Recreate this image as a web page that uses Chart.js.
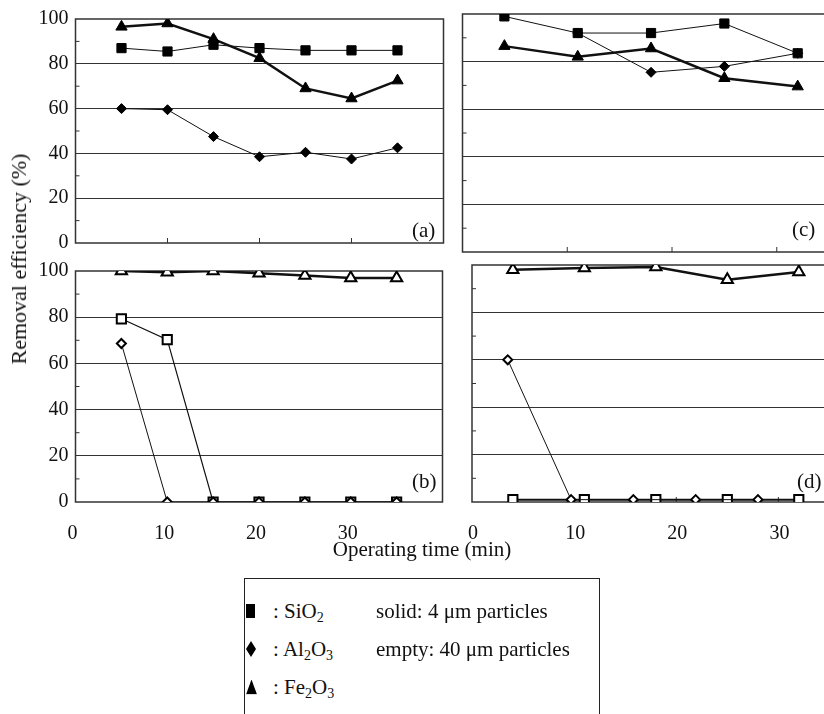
<!DOCTYPE html>
<html lang="en">
<head>
<meta charset="UTF-8" />
<title>Removal efficiency vs operating time</title>
<script src="https://cdn.jsdelivr.net/npm/chart.js@4.4.1/dist/chart.umd.min.js"></script>
<style>
*{box-sizing:border-box}
html,body{margin:0;padding:0;background:#fff}
body{font-family:"Liberation Serif","Times New Roman",serif;color:#111;overflow:hidden}
.fig{position:relative;width:824px;height:714px;overflow:hidden}
.fig canvas{position:absolute}
#cA{left:0;top:0}
#cB{left:0;top:252px}
#cC{left:455px;top:0}
#cD{left:455px;top:252px}
.ytitle{position:absolute;left:19px;top:259px;transform:translate(-50%,-50%) rotate(-90deg);font-size:22px;white-space:nowrap}
.xtitle{position:absolute;left:422px;top:549px;transform:translate(-50%,-50%);font-size:21px;white-space:nowrap}
.tag{position:absolute;font-size:21px;line-height:1;transform:translateY(-50%)}
.legend{position:absolute;left:244px;top:578px;width:356px;height:160px;border:1.5px solid #222}
.legend .row{position:absolute;left:0;font-size:21px;line-height:1;transform:translateY(-50%);white-space:nowrap}
.legend .mk{position:absolute;left:1px;top:50%;transform:translateY(-50%);background:#000}
.legend .txt{position:absolute;left:28px;top:0;transform:translateY(-50%)}
.legend .note{position:absolute;left:131px;top:0;transform:translateY(-50%)}
.sq{width:9px;height:14px}
.di{width:10px;height:16px;clip-path:polygon(50% 0,100% 50%,50% 100%,0 50%)}
.tr{width:11px;height:15px;clip-path:polygon(50% 0,100% 100%,0 100%)}
sub{font-size:14px;vertical-align:-4px;line-height:0}
</style>
</head>
<body>
<div class="fig">
  <canvas id="cA" width="451" height="262"></canvas>
  <canvas id="cB" width="451" height="300"></canvas>
  <canvas id="cC" width="434" height="262"></canvas>
  <canvas id="cD" width="434" height="300"></canvas>

  <div class="ytitle">Removal efficiency (%)</div>
  <div class="xtitle">Operating time (min)</div>

  <div class="tag" style="left:412px;top:230px">(a)</div>
  <div class="tag" style="left:412px;top:481px">(b)</div>
  <div class="tag" style="left:792px;top:229px">(c)</div>
  <div class="tag" style="left:797px;top:481px">(d)</div>

  <div class="legend">
    <div class="row" style="top:32px"><span class="mk sq"></span><span class="txt">: SiO<sub>2</sub></span><span class="note">solid: 4 μm particles</span></div>
    <div class="row" style="top:70px"><span class="mk di"></span><span class="txt">: Al<sub>2</sub>O<sub>3</sub></span><span class="note">empty: 40 μm particles</span></div>
    <div class="row" style="top:108px"><span class="mk tr"></span><span class="txt">: Fe<sub>2</sub>O<sub>3</sub></span></div>
  </div>
</div>

<script>
/* ── data ──────────────────────────────────────────────────────── */
// (a) 4 µm particles, left series
const xA       = [5, 10, 15, 20, 25, 30, 35];
const aSiO2    = [87, 85.5, 88.5, 87, 86, 86, 86];
const aAl2O3   = [60, 59.5, 47.5, 38.5, 40.5, 37.5, 42.5];
const aFe2O3   = [96.5, 98, 91, 82.5, 69, 64.5, 72.5];

// (b) 40 µm particles, left series
const xB       = [5, 10, 15, 20, 25, 30, 35];
const bSiO2    = [79.3, 70.3, 0, 0, 0, 0, 0];
const bAl2O3   = [68.6, 0, 0, 0, 0, 0, 0];
const bFe2O3   = [100, 99.5, 100, 99, 98, 97, 97];

// (c) 4 µm particles, right series
const xC       = [4, 11, 18, 25, 32];
const cSiO2    = [99, 92, 92, 96, 83.5];
const cFe2O3   = [86.5, 82, 85.5, 73, 69.5];
const xCAl     = [11, 18, 25, 32];
const cAl2O3   = [92, 75.5, 78, 83.5];

// (d) 40 µm particles, right series
const xD       = [4, 11, 18, 25, 32];
const dSiO2    = [1, 1, 1, 1, 1];
const dFe2O3   = [98, 98.7, 99.2, 93.8, 97];
const xDAl     = [3.5, 9.7, 15.8, 21.9, 28];
const dAl2O3   = [60, 1, 1, 1, 1];

// axis ticks
const X_TICKS  = [0, 10, 20, 30];
const Y_TICKS  = [0, 20, 40, 60, 80, 100];
const MINOR_Y  = [10, 30, 50, 70, 90];
const MINOR_X  = [10, 20, 30];

/* ── helpers ───────────────────────────────────────────────────── */
Chart.defaults.font.family = "'Liberation Serif', 'Times New Roman', serif";
Chart.defaults.color = '#111';

const pts = (xs, ys) => xs.map((x, i) => ({x, y: ys[i]}));

function series(xs, ys, shape, filled, lw, r){
  return {
    data: pts(xs, ys),
    borderColor: '#111', borderWidth: lw,
    pointStyle: shape, pointRadius: r,
    pointBackgroundColor: filled ? '#000' : '#fff',
    pointBorderColor: '#000', pointBorderWidth: filled ? 1 : 2,
    tension: 0
  };
}

// plot frame + short inward minor ticks
const framePlugin = {
  id: 'frame',
  beforeDatasetsDraw(chart){
    const {ctx, chartArea: a, scales: {x, y}} = chart;
    ctx.save();
    ctx.strokeStyle = '#333';
    ctx.lineWidth = 1.5;
    ctx.strokeRect(a.left, a.top, a.right - a.left, a.bottom - a.top);
    ctx.lineWidth = 1;
    ctx.beginPath();
    MINOR_Y.forEach(v => { const p = y.getPixelForValue(v); ctx.moveTo(a.left, p); ctx.lineTo(a.left + 4, p); });
    MINOR_X.forEach(v => { const p = x.getPixelForValue(v); ctx.moveTo(p, a.bottom); ctx.lineTo(p, a.bottom - 5); });
    ctx.stroke();
    ctx.restore();
  }
};

function panel(id, datasets, o){
  return new Chart(document.getElementById(id), {
    type: 'line',
    data: {datasets},
    options: {
      responsive: false,
      animation: false,
      events: [],
      layout: {padding: {top: o.padTop, right: 2, bottom: 0, left: 0}},
      plugins: {legend: {display: false}, tooltip: {enabled: false}},
      scales: {
        x: {
          type: 'linear', min: 0, max: 40,
          grid: {display: false}, border: {display: false},
          afterBuildTicks: s => { s.ticks = X_TICKS.map(v => ({value: v})); },
          ticks: {display: o.xLabels, padding: 12, labelOffset: o.xShift, font: {size: 20}},
          afterFit: s => { s.height = o.xHeight; }
        },
        y: {
          min: 0, max: 100,
          border: {display: false},
          afterBuildTicks: s => { s.ticks = Y_TICKS.map(v => ({value: v})); },
          grid: {drawTicks: false, lineWidth: 1, color: c => (c.tick.value > 0 && c.tick.value < 100) ? '#333' : 'rgba(0,0,0,0)'},
          ticks: {display: o.yLabels, padding: 7, font: {size: 20}},
          afterFit: s => { s.width = o.yWidth; }
        }
      }
    },
    plugins: [framePlugin]
  });
}

/* ── panels ────────────────────────────────────────────────────── */
const leftTop    = {padTop: 14, xHeight: 10, xLabels: false, yLabels: true,  yWidth: 75.5, xShift: 0};
const leftBottom = {padTop: 13, xHeight: 50, xLabels: true,  yLabels: true,  yWidth: 75.5, xShift: -3};
const rightTop   = {padTop: 14, xHeight: 10, xLabels: false, yLabels: false, yWidth: 6,    xShift: 0};
const rightBottom= {padTop: 13, xHeight: 50, xLabels: true,  yLabels: false, yWidth: 6,    xShift: 1};

panel('cA', [
  series(xA, aFe2O3, 'triangle', true, 2.5, 6.5),
  series(xA, aSiO2,  'rect',     true, 1,   6.5),
  series(xA, aAl2O3, 'rectRot',  true, 1,   5)
], leftTop);

panel('cB', [
  series(xB, bAl2O3, 'rectRot',  false, 1,   4.5),
  series(xB, bFe2O3, 'triangle', false, 2.5, 6.5),
  series(xB, bSiO2,  'rect',     false, 1.2, 6.5)
], leftBottom);

panel('cC', [
  series(xC,   cSiO2,  'rect',     true, 1,   6.5),
  series(xC,   cFe2O3, 'triangle', true, 2.5, 6.5),
  series(xCAl, cAl2O3, 'rectRot',  true, 1,   5)
], rightTop);

panel('cD', [
  series(xD,   dFe2O3, 'triangle', false, 2.5, 6.5),
  series(xDAl, dAl2O3, 'rectRot',  false, 1,   4.5),
  series(xD,   dSiO2,  'rect',     false, 2,   6.5)
], rightBottom);
</script>
</body>
</html>
